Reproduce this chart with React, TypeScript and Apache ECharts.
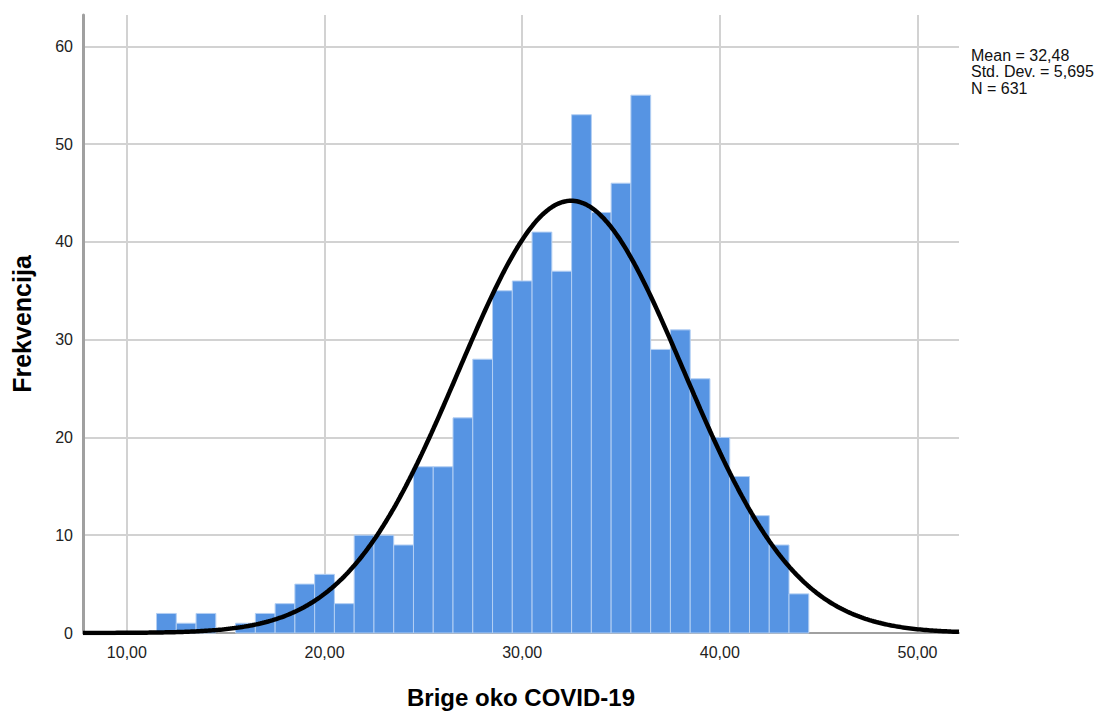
import React, { useEffect, useRef } from "react";
import * as echarts from "echarts";

// Histogram bins (centre of each 1-wide bin) and frequencies
const binCenters = [12, 13, 14, 15, 16, 17, 18, 19, 20, 21, 22, 23, 24, 25, 26, 27, 28, 29, 30, 31, 32, 33, 34, 35, 36, 37, 38, 39, 40, 41, 42, 43, 44];
const frequencies = [2, 1, 2, 0, 1, 2, 3, 5, 6, 3, 10, 10, 9, 17, 17, 22, 28, 35, 36, 41, 37, 53, 43, 46, 55, 29, 31, 26, 20, 16, 12, 9, 4];

// Summary statistics shown in the chart
const mean = 32.48;
const stdDev = 5.695;
const n = 631;
const binWidth = 1;
const statLines = ["Mean = 32,48", "Std. Dev. = 5,695", "N = 631"];

const xMin = 7.78;
const xMax = 52.1;
const yMax = 63.2;

const FONT = "'Liberation Sans', Arial, Helvetica, sans-serif";

function normalCurve(): number[][] {
  const pts: number[][] = [];
  const steps = 440;
  for (let i = 0; i <= steps; i++) {
    const x = xMin + ((xMax - xMin) * i) / steps;
    const z = (x - mean) / stdDev;
    const y = (n * binWidth * Math.exp(-0.5 * z * z)) / (stdDev * Math.sqrt(2 * Math.PI));
    pts.push([x, y]);
  }
  return pts;
}

export default function App() {
  const ref = useRef<HTMLDivElement>(null);

  useEffect(() => {
    if (!ref.current) return;
    const chart = echarts.init(ref.current, undefined, { renderer: "svg" });
    const barData = binCenters.map((c, i) => [c, frequencies[i]]);
    const fmt = (v: number) => v.toFixed(2).replace(".", ",");

    chart.setOption({
      animation: false,
      backgroundColor: "#ffffff",
      grid: { left: 83, right: 143, top: 15, bottom: 77, containLabel: false },
      xAxis: {
        type: "value",
        min: xMin,
        max: xMax,
        minInterval: 10,
        maxInterval: 10,
        name: "Brige oko COVID-19",
        nameLocation: "middle",
        nameGap: 52,
        nameTextStyle: { fontFamily: FONT, fontSize: 24, fontWeight: "bold", color: "#000" },
        axisLine: { show: true, lineStyle: { color: "#a0a0a0", width: 2 } },
        axisTick: { show: false },
        axisLabel: {
          formatter: fmt,
          fontFamily: FONT,
          fontSize: 16,
          color: "#222",
          margin: 11,
          showMinLabel: false,
          showMaxLabel: false,
        },
        splitLine: {
          show: true,
          showMinLine: false,
          showMaxLine: false,
          lineStyle: { color: "#d2d2d2", width: 2 },
        },
      },
      yAxis: {
        type: "value",
        min: 0,
        max: yMax,
        interval: 10,
        name: "Frekvencija",
        nameLocation: "middle",
        nameGap: 49,
        nameTextStyle: { fontFamily: FONT, fontSize: 25, fontWeight: "bold", color: "#000" },
        axisLine: { show: true, lineStyle: { color: "#a0a0a0", width: 3 } },
        axisTick: { show: false },
        axisLabel: {
          fontFamily: FONT,
          fontSize: 16,
          color: "#222",
          margin: 10,
          showMaxLabel: false,
        },
        splitLine: {
          show: true,
          showMinLine: false,
          showMaxLine: false,
          lineStyle: { color: "#d2d2d2", width: 2 },
        },
      },
      series: [
        {
          type: "custom",
          data: barData,
          z: 2,
          encode: { x: 0, y: 1 },
          renderItem: (params: any, api: any) => {
            const c = api.value(0);
            const h = api.value(1);
            if (!h) return null;
            const p0 = api.coord([c - binWidth / 2, h]);
            const p1 = api.coord([c + binWidth / 2, 0]);
            return {
              type: "rect",
              shape: { x: p0[0], y: p0[1], width: p1[0] - p0[0], height: p1[1] - p0[1] },
              style: { fill: "#5694e3", stroke: "#b3cff3", lineWidth: 1 },
            };
          },
        },
        {
          type: "line",
          data: normalCurve(),
          showSymbol: false,
          smooth: false,
          z: 5,
          lineStyle: { color: "#000", width: 4.5 },
        },
      ],
      graphic: statLines.map((t, i) => ({
        type: "text",
        left: 971,
        top: 47 + i * 16.5,
        style: { text: t, fontFamily: FONT, fontSize: 16, fill: "#111" },
      })),
    });

    return () => chart.dispose();
  }, []);

  return <div ref={ref} style={{ width: 1102, height: 714, position: "absolute", left: 0, top: 0 }} />;
}
